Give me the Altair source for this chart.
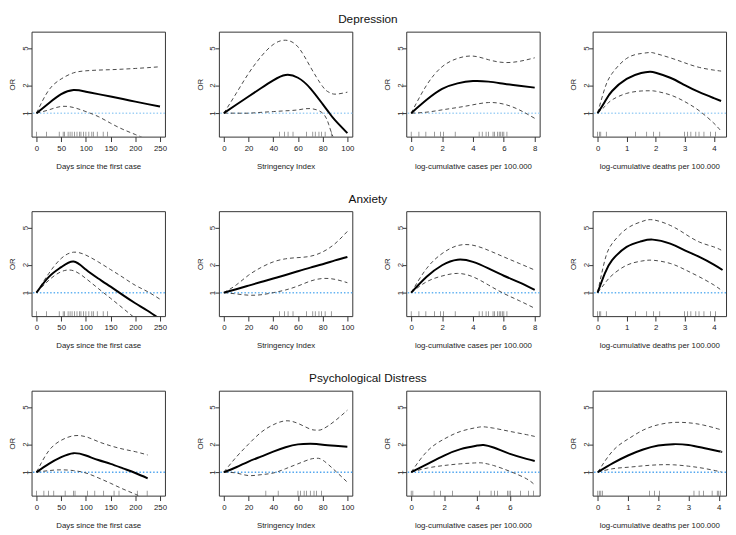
import altair as alt
import pandas as pd

# ---------------- data ----------------
# Depression
dep_days_x = [0, 25, 50, 75, 100, 125, 150, 175, 200, 225, 250]
dep_days_or = [1.0, 1.28, 1.6, 1.77, 1.70, 1.60, 1.51, 1.42, 1.33, 1.25, 1.18]
dep_days_hi = [1.0, 1.77, 2.33, 2.71, 2.85, 2.90, 2.93, 2.97, 3.02, 3.08, 3.15]
dep_days_lo = [1.0, 1.085, 1.18, 1.15, 1.04, 0.92, 0.78, 0.67, 0.59, 0.52, 0.46]

dep_str_x = [0, 10, 20, 30, 40, 50, 60, 70, 80, 85, 90, 100]
dep_str_or = [1.0, 1.23, 1.51, 1.85, 2.25, 2.57, 2.40, 1.85, 1.25, 1.02, 0.84, 0.61]
dep_str_hi = [1.0, 1.63, 2.67, 4.03, 5.46, 6.07, 5.15, 3.15, 1.93, 1.68, 1.6, 1.68]
dep_str_lo = [1.0, 1.0, 1.0, 1.02, 1.04, 1.06, 1.085, 1.12, 1.0, 0.75, 0.5, 0.3]

dep_cases_x = [0, 1, 2, 3, 4, 5, 6, 7, 8]
dep_cases_or = [1.0, 1.39, 1.82, 2.09, 2.21, 2.18, 2.07, 1.97, 1.88]
dep_cases_hi = [1.0, 2.0, 3.15, 3.87, 4.1, 3.75, 3.5, 3.6, 3.93]
dep_cases_lo = [1.0, 1.025, 1.085, 1.15, 1.23, 1.3, 1.25, 1.085, 0.88]

dep_deaths_x = [0, 0.25, 0.5, 1, 1.5, 1.8, 2, 2.5, 3, 3.5, 4, 4.25]
dep_deaths_or = [1.0, 1.33, 1.73, 2.33, 2.7, 2.78, 2.72, 2.4, 2.0, 1.68, 1.45, 1.35]
dep_deaths_hi = [1.0, 1.85, 2.67, 3.87, 4.37, 4.48, 4.37, 3.93, 3.47, 3.1, 2.9, 2.83]
dep_deaths_lo = [1.0, 1.18, 1.39, 1.63, 1.73, 1.74, 1.72, 1.57, 1.33, 1.06, 0.78, 0.64]

# Anxiety
anx_days_x = [0, 25, 50, 75, 100, 125, 150, 175, 200, 225, 250]
anx_days_or = [1.0, 1.48, 1.88, 2.16, 1.77, 1.42, 1.16, 0.94, 0.77, 0.64, 0.52]
anx_days_hi = [1.0, 1.61, 2.33, 2.72, 2.53, 2.14, 1.77, 1.46, 1.2, 1.025, 0.85]
anx_days_lo = [1.0, 1.36, 1.68, 1.72, 1.42, 1.11, 0.87, 0.68, 0.53, 0.42, 0.34]

anx_str_x = [0, 10, 20, 30, 40, 50, 60, 70, 80, 90, 100]
anx_str_or = [1.0, 1.09, 1.19, 1.30, 1.42, 1.55, 1.70, 1.86, 2.02, 2.22, 2.42]
anx_str_hi = [1.0, 1.21, 1.54, 1.86, 2.14, 2.31, 2.38, 2.46, 2.74, 3.36, 4.55]
anx_str_lo = [1.0, 0.97, 0.94, 0.95, 1.0, 1.07, 1.18, 1.33, 1.42, 1.39, 1.28]

anx_cases_x = [0, 1, 2, 3, 4, 5, 6, 7, 8]
anx_cases_or = [1.0, 1.48, 1.97, 2.26, 2.14, 1.82, 1.52, 1.29, 1.07]
anx_cases_hi = [1.0, 1.82, 2.63, 3.2, 3.23, 2.85, 2.42, 2.06, 1.75]
anx_cases_lo = [1.0, 1.31, 1.51, 1.61, 1.48, 1.21, 0.98, 0.82, 0.68]

anx_deaths_x = [0, 0.25, 0.5, 1, 1.5, 1.9, 2.5, 3, 3.5, 4, 4.3]
anx_deaths_or = [1.0, 1.61, 2.23, 3.1, 3.56, 3.71, 3.36, 2.85, 2.42, 2.0, 1.75]
anx_deaths_hi = [1.0, 2.23, 3.36, 4.86, 5.77, 6.06, 5.28, 4.3, 3.5, 3.1, 2.81]
anx_deaths_lo = [1.0, 1.26, 1.54, 1.97, 2.18, 2.23, 2.06, 1.77, 1.48, 1.21, 1.04]

# Psychological Distress
psy_days_x = [0, 25, 50, 75, 100, 125, 150, 175, 200, 225]
psy_days_or = [1.0, 1.23, 1.45, 1.6, 1.51, 1.35, 1.23, 1.1, 0.98, 0.86]
psy_days_hi = [1.0, 1.7, 2.2, 2.46, 2.4, 2.13, 1.92, 1.77, 1.66, 1.53]
psy_days_lo = [1.0, 1.04, 1.06, 1.04, 0.98, 0.87, 0.76, 0.66, 0.58, 0.5]

psy_str_x = [0, 10, 20, 30, 40, 50, 60, 70, 75, 80, 90, 100]
psy_str_or = [1.0, 1.13, 1.3, 1.47, 1.66, 1.85, 1.99, 2.02, 2.01, 1.97, 1.92, 1.88]
psy_str_hi = [1.0, 1.45, 2.0, 2.67, 3.23, 3.56, 3.34, 2.9, 2.83, 2.9, 3.56, 4.63]
psy_str_lo = [1.0, 0.98, 0.92, 0.94, 0.98, 1.09, 1.23, 1.38, 1.41, 1.35, 1.04, 0.78]

psy_cases_x = [0, 1, 2, 3, 4, 4.4, 5, 6, 7, 7.5]
psy_cases_or = [1.0, 1.23, 1.51, 1.77, 1.93, 1.96, 1.84, 1.57, 1.39, 1.32]
psy_cases_hi = [1.0, 1.7, 2.27, 2.74, 3.02, 3.07, 2.97, 2.74, 2.53, 2.42]
psy_cases_lo = [1.0, 1.11, 1.18, 1.23, 1.26, 1.25, 1.18, 1.02, 0.85, 0.73]

psy_deaths_x = [0, 0.5, 1, 1.5, 2, 2.5, 3, 3.5, 4, 4.08]
psy_deaths_or = [1.0, 1.25, 1.51, 1.75, 1.93, 2.0, 1.96, 1.82, 1.68, 1.66]
psy_deaths_hi = [1.0, 1.7, 2.27, 2.83, 3.23, 3.42, 3.39, 3.2, 2.9, 2.83]
psy_deaths_lo = [1.0, 1.09, 1.13, 1.17, 1.2, 1.2, 1.16, 1.1, 1.02, 1.0]

# Rug values
rug_days_12 = [0, 20, 46, 54, 57, 64, 68, 72, 77, 82, 87, 90, 95, 100, 106, 112, 115, 123, 135, 144]
rug_str_12 = [45, 49, 52, 56, 67, 72, 74, 77, 79, 82, 87]
rug_cases_12 = [0, 0.5, 0.95, 1.5, 1.9, 2.1, 2.85, 4.4, 4.6, 4.85, 5.0, 5.3, 5.4, 5.6, 5.7, 5.8, 5.9, 6.0, 6.2]
rug_deaths_12 = [0, 0.06, 0.11, 0.3, 1.3, 1.69, 1.92, 2.14, 2.99, 3.1, 3.21, 3.38, 3.49, 3.66, 3.89, 4.06]
rug_days_3 = [0, 15, 24, 35, 58, 75, 78, 103, 118, 136, 157, 167, 204, 224]
rug_str_3 = [34, 44, 60, 62, 65, 67, 70, 73, 75, 79]
rug_cases_3 = [0, 0.1, 1.39, 1.78, 2.5, 4.16, 4.85, 5.05, 5.25, 5.84, 5.94, 6.04, 6.63, 7.13, 7.43]
rug_deaths_3 = [0, 0.05, 0.1, 0.15, 1.71, 1.87, 2.04, 3.18, 3.35, 3.5, 3.78, 3.95, 4.0, 4.05]

row_titles = ["Depression", "Anxiety", "Psychological Distress"]
row_ref_colors = ["#9fd0f5", "#63b3f2", "#4fa5ef"]
x_titles = ["Days since the first case", "Stringency Index",
            "log-cumulative cases per 100.000", "log-cumulative deaths per 100.000"]
y_ticks = [1, 2, 5]

# ---------------- chart ----------------
W, H = 136, 107
FONT = "Liberation Sans"


def panel(x, est, lo, hi, rug, domain, ticks, xtitle, refcol):
    xs = alt.Scale(domain=domain, nice=False, zero=False)
    ys = alt.Scale(type="log", domain=[0.56, 7.5], nice=False)
    xax = alt.Axis(values=ticks, title=xtitle, grid=False, domain=False,
                   tickSize=5, labelPadding=3, titlePadding=10, format="d")
    yax = alt.Axis(values=y_ticks, title="OR", grid=False, domain=False,
                   tickSize=4, labelPadding=2, titlePadding=5, labelAngle=270,
                   labelBaseline="middle", labelAlign="center", format="d")
    df_est = pd.DataFrame({"x": x, "y": est})
    df_ci = pd.DataFrame({"x": list(x) + list(x), "y": list(lo) + list(hi),
                          "s": ["lo"] * len(x) + ["hi"] * len(x)})
    X = alt.X("x:Q", scale=xs, axis=xax)
    Y = alt.Y("y:Q", scale=ys, axis=yax)
    ref = alt.Chart(pd.DataFrame({"y": [1]})).mark_rule(
        color=refcol, strokeDash=[1.5, 2], strokeWidth=1.5
    ).encode(y=Y)
    ci = alt.Chart(df_ci).mark_line(
        color="#333", strokeWidth=0.9, strokeDash=[4, 3], clip=True, interpolate="natural"
    ).encode(x=X, y=Y, detail="s:N")
    line = alt.Chart(df_est).mark_line(
        color="black", strokeWidth=2, clip=True, interpolate="natural"
    ).encode(x=X, y=Y)
    rugc = alt.Chart(pd.DataFrame({"x": rug})).mark_tick(
        color="#333", size=5, thickness=0.7
    ).encode(x=X, y=alt.value(H - 2.5))
    return alt.layer(ref, ci, line, rugc).properties(width=W, height=H)


days_dom = [-10, 260]
str_dom = [-4, 104]
cases_dom = [-0.32, 8.32]
deaths_dom = [-0.17, 4.42]
days_t = [0, 50, 100, 150, 200, 250]
str_t = [0, 20, 40, 60, 80, 100]
cases_t = [0, 2, 4, 6, 8]
deaths_t = [0, 1, 2, 3, 4]

rows_spec = [
    [
        (dep_days_x, dep_days_or, dep_days_lo, dep_days_hi, rug_days_12, days_dom, days_t),
        (dep_str_x, dep_str_or, dep_str_lo, dep_str_hi, rug_str_12, str_dom, str_t),
        (dep_cases_x, dep_cases_or, dep_cases_lo, dep_cases_hi, rug_cases_12, cases_dom, cases_t),
        (dep_deaths_x, dep_deaths_or, dep_deaths_lo, dep_deaths_hi, rug_deaths_12, deaths_dom, deaths_t),
    ],
    [
        (anx_days_x, anx_days_or, anx_days_lo, anx_days_hi, rug_days_12, days_dom, days_t),
        (anx_str_x, anx_str_or, anx_str_lo, anx_str_hi, rug_str_12, str_dom, str_t),
        (anx_cases_x, anx_cases_or, anx_cases_lo, anx_cases_hi, rug_cases_12, cases_dom, cases_t),
        (anx_deaths_x, anx_deaths_or, anx_deaths_lo, anx_deaths_hi, rug_deaths_12, deaths_dom, deaths_t),
    ],
    [
        (psy_days_x, psy_days_or, psy_days_lo, psy_days_hi, rug_days_3, days_dom, days_t),
        (psy_str_x, psy_str_or, psy_str_lo, psy_str_hi, rug_str_3, str_dom, str_t),
        (psy_cases_x, psy_cases_or, psy_cases_lo, psy_cases_hi, rug_cases_3, [-0.3, 7.8], [0, 2, 4, 6]),
        (psy_deaths_x, psy_deaths_or, psy_deaths_lo, psy_deaths_hi, rug_deaths_3, [-0.17, 4.24], deaths_t),
    ],
]

rows = []
for title, spec, rc in zip(row_titles, rows_spec, row_ref_colors):
    panels = [panel(*s, xt, rc) for s, xt in zip(spec, x_titles)]
    rows.append(
        alt.hconcat(*panels, spacing=28).properties(
            title=alt.TitleParams(title, anchor="middle", fontSize=12,
                                  fontWeight="normal", font=FONT, offset=5)
        )
    )

chart = alt.vconcat(*rows, spacing=22).properties(padding=0).configure_view(
    stroke="#333", strokeWidth=1
).configure_axis(
    labelFont=FONT, titleFont=FONT, labelFontSize=8, titleFontSize=8,
    titleFontWeight="normal", tickColor="#333", labelColor="#222", titleColor="#222"
).configure_title(font=FONT, color="#111")

chart.save("out.html", embed_options={"renderer": "svg", "actions": False})
